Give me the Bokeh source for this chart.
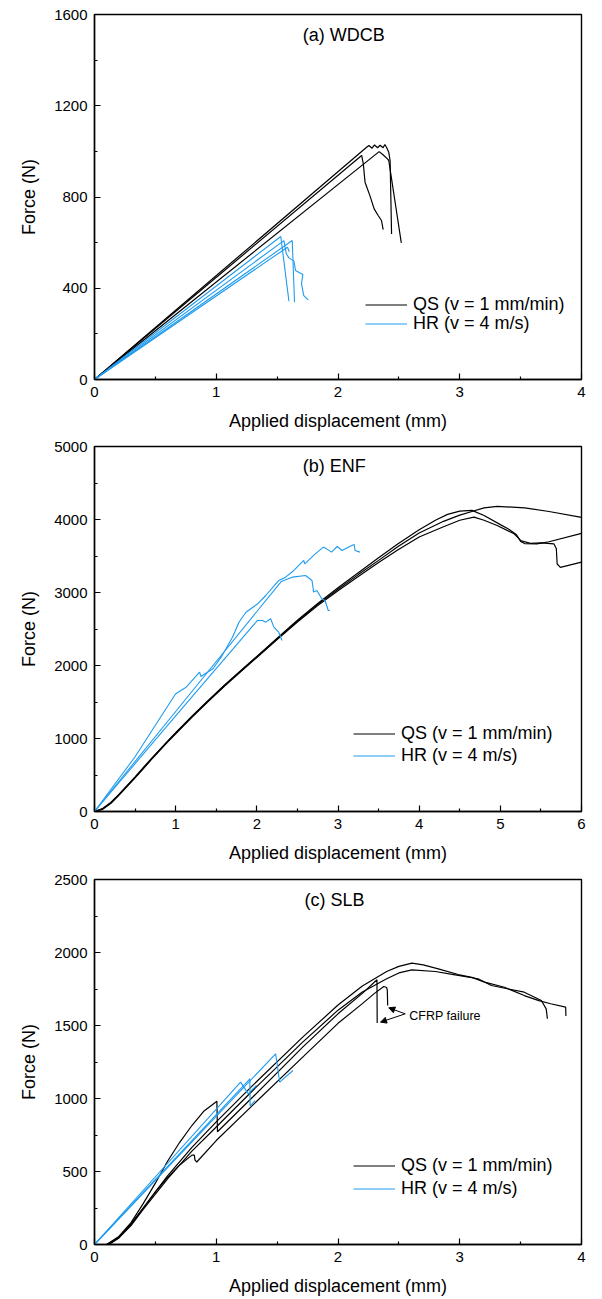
from bokeh.plotting import figure
from bokeh.models import Range1d, FixedTicker, Legend, LegendItem, Arrow, NormalHead
from bokeh.layouts import column
from bokeh.embed import file_html
from bokeh.resources import INLINE
from bokeh.core.properties import value

FONT = "Liberation Sans"
BLACK = "#000000"
BLUE = "#1E9BEF"

# ---------------- (a) WDCB ----------------
a_qs1_x = [0, 2.194, 2.208, 2.222, 2.262, 2.297, 2.33, 2.357, 2.371]
a_qs1_y = [0, 982, 945, 865, 806, 748, 719, 697, 657]
a_qs2_x = [0, 2.235, 2.254, 2.28, 2.30, 2.325, 2.346, 2.37, 2.385, 2.40, 2.417, 2.428, 2.44]
a_qs2_y = [0, 1018, 1026, 1014, 1028, 1016, 1027, 1016, 1030, 1016, 996, 960, 638]
a_qs3_x = [0, 2.338, 2.37, 2.406, 2.417, 2.52]
a_qs3_y = [0, 999, 985, 967, 960, 599]
a_hr1_x = [0, 1.53, 1.597]
a_hr1_y = [0, 627, 343]
a_hr2_x = [0, 1.556, 1.575, 1.597, 1.638, 1.651, 1.711, 1.700, 1.719, 1.755]
a_hr2_y = [0, 609, 551, 533, 519, 478, 460, 419, 368, 349]
a_hr3_x = [0, 1.624, 1.643]
a_hr3_y = [0, 609, 339]
a_hr4_x = [0, 1.585, 1.60]
a_hr4_y = [0, 580, 560]

# ---------------- (b) ENF ----------------
b_qs1_x = [0, 0.1, 0.2, 0.3, 0.4, 0.5, 0.6, 0.7, 0.8, 0.9, 1.0, 1.2, 1.4, 1.6, 1.8, 2.0, 2.25, 2.5, 2.75, 3.0, 3.25, 3.5, 3.74, 4.0, 4.2, 4.35, 4.5, 4.65, 4.8, 5.0, 5.1, 5.2, 5.25, 5.3, 5.45, 5.6, 6.0]
b_qs1_y = [0, 40, 125, 235, 355, 475, 600, 725, 845, 965, 1080, 1305, 1520, 1730, 1930, 2125, 2375, 2620, 2850, 3065, 3270, 3475, 3667, 3860, 3990, 4070, 4115, 4125, 4055, 3930, 3870, 3790, 3700, 3670, 3667, 3695, 3810]
b_qs2_x = [0, 0.1, 0.2, 0.3, 0.4, 0.5, 0.6, 0.7, 0.8, 0.9, 1.0, 1.2, 1.4, 1.6, 1.8, 2.0, 2.25, 2.5, 2.75, 3.0, 3.25, 3.5, 3.74, 4.0, 4.3, 4.5, 4.65, 4.8, 4.96, 5.3, 5.6, 6.0]
b_qs2_y = [0, 35, 118, 228, 348, 468, 592, 717, 837, 957, 1072, 1297, 1512, 1722, 1922, 2117, 2365, 2608, 2835, 3045, 3245, 3440, 3630, 3815, 3975, 4060, 4110, 4160, 4180, 4160, 4110, 4030]
b_qs3_x = [0, 0.1, 0.2, 0.3, 0.4, 0.5, 0.6, 0.7, 0.8, 0.9, 1.0, 1.2, 1.4, 1.6, 1.8, 2.0, 2.25, 2.5, 2.75, 3.0, 3.25, 3.5, 3.74, 4.0, 4.3, 4.5, 4.675, 4.8, 4.96, 5.17, 5.25, 5.37, 5.5, 5.66, 5.69, 5.70, 5.74, 6.0]
b_qs3_y = [0, 30, 110, 220, 340, 460, 585, 710, 830, 950, 1065, 1290, 1505, 1715, 1915, 2110, 2355, 2595, 2820, 3025, 3220, 3410, 3585, 3760, 3900, 3990, 4032, 3990, 3918, 3804, 3713, 3673, 3680, 3667, 3600, 3390, 3345, 3416]
b_hr1_x = [0, 0.5, 1.0, 1.13, 1.295, 1.31, 1.46, 1.56, 1.70, 1.78, 1.866, 2.01, 2.11, 2.27, 2.355, 2.456, 2.578, 2.59, 2.72, 2.82, 2.86, 2.92, 2.99, 3.05, 3.17, 3.20, 3.21, 3.27]
b_hr1_y = [0, 750, 1612, 1703, 1908, 1850, 1955, 2114, 2388, 2593, 2730, 2845, 2959, 3165, 3210, 3302, 3439, 3393, 3530, 3621, 3598, 3553, 3630, 3575, 3644, 3658, 3575, 3553]
b_hr2_x = [0, 1.0, 2.0, 2.3, 2.436, 2.60, 2.68, 2.70, 2.74, 2.80, 2.84, 2.88, 2.90]
b_hr2_y = [0, 1370, 2740, 3150, 3210, 3233, 3165, 3005, 3028, 2914, 2891, 2754, 2754]
b_hr3_x = [0, 1.0, 2.008, 2.07, 2.11, 2.17, 2.21, 2.27, 2.31]
b_hr3_y = [0, 1310, 2617, 2617, 2594, 2640, 2525, 2456, 2343]

# ---------------- (c) SLB ----------------
c_qs1_x = [0.10, 0.2, 0.3, 0.4, 0.5, 0.6, 0.7, 0.8, 0.9, 1.0, 1.005, 1.01, 1.3, 1.71, 2.0, 2.2, 2.32, 2.322]
c_qs1_y = [0, 55, 150, 280, 420, 570, 700, 815, 915, 978, 982, 772, 1010, 1352, 1580, 1720, 1813, 1517]
c_qs2_x = [0.12, 0.2, 0.3, 0.4, 0.5, 0.6, 0.7, 0.8, 0.82, 0.825, 0.84, 1.0, 1.3, 1.71, 2.0, 2.2, 2.3, 2.376, 2.40, 2.405, 2.408]
c_qs2_y = [0, 45, 140, 250, 360, 460, 545, 612, 612, 580, 565, 712, 955, 1283, 1515, 1650, 1720, 1767, 1760, 1740, 1637]
c_qs3_x = [0.1, 0.2, 0.3, 0.4, 0.5, 0.6, 0.8, 1.0, 1.3, 1.71, 2.0, 2.2, 2.4, 2.5, 2.607, 2.7, 2.824, 2.987, 3.1, 3.204, 3.367, 3.53, 3.65, 3.747, 3.87, 3.872]
c_qs3_y = [0, 50, 140, 250, 360, 470, 665, 840, 1090, 1420, 1640, 1770, 1870, 1905, 1927, 1915, 1888, 1849, 1830, 1797, 1762, 1705, 1670, 1649, 1626, 1565]
c_qs4_x = [0.11, 0.2, 0.3, 0.4, 0.5, 0.6, 0.8, 1.0, 1.3, 1.71, 2.0, 2.2, 2.4, 2.5, 2.607, 2.8, 2.95, 3.15, 3.26, 3.4, 3.53, 3.67, 3.71, 3.72]
c_qs4_y = [0, 45, 130, 240, 345, 450, 640, 805, 1055, 1386, 1605, 1730, 1820, 1860, 1881, 1870, 1849, 1820, 1774, 1750, 1728, 1671, 1614, 1546]
c_hr1_x = [0, 1.2, 1.263, 1.33]
c_hr1_y = [0, 1112, 1032, 1090]
c_hr2_x = [0, 1.276, 1.278, 1.32]
c_hr2_y = [0, 1135, 949, 985]
c_hr3_x = [0, 1.488, 1.521, 1.63]
c_hr3_y = [0, 1306, 1112, 1192]

LEG_QS = "QS (v = 1 mm/min)"
LEG_HR = "HR (v = 4 m/s)"


def make_fig(height, xmax, ymax, xmajor, xminor, ymajor, yminor, bl, br, bt, bb):
    p = figure(width=602, height=height, x_range=Range1d(0, xmax), y_range=Range1d(0, ymax),
               output_backend="svg", toolbar_location=None,
               min_border_left=bl, min_border_right=br, min_border_top=bt, min_border_bottom=bb)
    p.xgrid.visible = False
    p.ygrid.visible = False
    p.outline_line_color = "black"
    p.outline_line_width = 1.4
    p.outline_line_alpha = 1
    p.xaxis.ticker = FixedTicker(ticks=xmajor, minor_ticks=xminor)
    p.yaxis.ticker = FixedTicker(ticks=ymajor, minor_ticks=yminor)
    for ax in (p.xaxis[0], p.yaxis[0]):
        ax.axis_line_width = 1.4
        ax.axis_line_color = "black"
        ax.major_tick_in = 6
        ax.major_tick_out = 0
        ax.minor_tick_in = 3
        ax.minor_tick_out = 0
        ax.major_tick_line_width = 1.2
        ax.minor_tick_line_width = 1.2
        ax.major_label_text_font = FONT
        ax.major_label_text_font_size = "15px"
        ax.major_label_text_color = "black"
        ax.axis_label_text_font = FONT
        ax.axis_label_text_font_size = "18px"
        ax.axis_label_text_font_style = "normal"
        ax.axis_label_text_color = "black"
    p.xaxis.axis_label = "Applied displacement (mm)"
    p.yaxis.axis_label = "Force (N)"
    p.xaxis.major_label_standoff = 7
    p.xaxis.axis_label_standoff = 11
    p.yaxis.major_label_standoff = 7
    p.yaxis.axis_label_standoff = 12
    return p


def add_legend(p, rq, rh, x, y_qs, y_hr):
    # one legend box per entry so that the row spacing can follow the original
    for label, r, y in [(LEG_QS, rq, y_qs), (LEG_HR, rh, y_hr)]:
        leg = Legend(items=[LegendItem(label=label, renderers=[r])],
                     location=(x, y), orientation="vertical",
                     glyph_width=42, glyph_height=15, label_height=15, spacing=0,
                     label_standoff=6, padding=0, margin=0,
                     border_line_alpha=0, background_fill_alpha=0,
                     label_text_font=FONT, label_text_font_size="18px", label_text_color="black")
        p.add_layout(leg)


def title(p, x, y, txt):
    p.text(x=[x], y=[y], text=[txt], text_font=value(FONT), text_font_size="18px",
           text_align="left", text_baseline="middle", text_color="black")


# Panel a
pa = make_fig(433, 4, 1600, [0, 1, 2, 3, 4], [0.5, 1.5, 2.5, 3.5],
              [0, 400, 800, 1200, 1600], [200, 600, 1000, 1400], 94, 17, 14, 54)
rq = None
for xs, ys in [(a_qs1_x, a_qs1_y), (a_qs2_x, a_qs2_y), (a_qs3_x, a_qs3_y)]:
    r = pa.line(xs, ys, line_color=BLACK, line_width=1.2)
    rq = rq or r
rh = None
for xs, ys in [(a_hr1_x, a_hr1_y), (a_hr2_x, a_hr2_y), (a_hr3_x, a_hr3_y), (a_hr4_x, a_hr4_y)]:
    r = pa.line(xs, ys, line_color=BLUE, line_width=1.1)
    rh = rh or r
add_legend(pa, rq, rh, 271, 64, 45)
title(pa, 1.71, 1512, "(a) WDCB")

# Panel b
pb = make_fig(433, 6, 5000, [0, 1, 2, 3, 4, 5, 6], [0.5, 1.5, 2.5, 3.5, 4.5, 5.5],
              [0, 1000, 2000, 3000, 4000, 5000], [500, 1500, 2500, 3500, 4500], 94, 17, 13, 55)
rq = None
for xs, ys in [(b_qs1_x, b_qs1_y), (b_qs2_x, b_qs2_y), (b_qs3_x, b_qs3_y)]:
    r = pb.line(xs, ys, line_color=BLACK, line_width=1.2)
    rq = rq or r
rh = None
for xs, ys in [(b_hr1_x, b_hr1_y), (b_hr2_x, b_hr2_y), (b_hr3_x, b_hr3_y)]:
    r = pb.line(xs, ys, line_color=BLUE, line_width=1.1)
    rh = rh or r
add_legend(pb, rq, rh, 259, 67, 45)
title(pb, 2.566, 4727, "(b) ENF")

# Panel c
pc = make_fig(432, 4, 2500, [0, 1, 2, 3, 4], [0.5, 1.5, 2.5, 3.5],
              [0, 500, 1000, 1500, 2000, 2500], [250, 750, 1250, 1750, 2250], 90, 21, 13, 54)
rq = None
for xs, ys in [(c_qs1_x, c_qs1_y), (c_qs2_x, c_qs2_y), (c_qs3_x, c_qs3_y), (c_qs4_x, c_qs4_y)]:
    r = pc.line(xs, ys, line_color=BLACK, line_width=1.2)
    rq = rq or r
rh = None
for xs, ys in [(c_hr1_x, c_hr1_y), (c_hr2_x, c_hr2_y), (c_hr3_x, c_hr3_y)]:
    r = pc.line(xs, ys, line_color=BLUE, line_width=1.1)
    rh = rh or r
add_legend(pc, rq, rh, 259, 68, 45)
title(pc, 1.725, 2361, "(c) SLB")

# CFRP failure annotation
pc.text(x=[2.585], y=[1568], text=["CFRP failure"], text_font=value(FONT), text_font_size="12.5px",
        text_align="left", text_baseline="middle", text_color="black")
for ex, ey in [(2.417, 1621), (2.349, 1523)]:
    pc.add_layout(Arrow(end=NormalHead(size=6, fill_color="black", line_color="black", line_width=1),
                        x_start=2.552, y_start=1580, x_end=ex, y_end=ey,
                        line_color="black", line_width=1))

layout = column(pa, pb, pc, spacing=0)
open("out.html", "w").write(file_html(layout, INLINE))
